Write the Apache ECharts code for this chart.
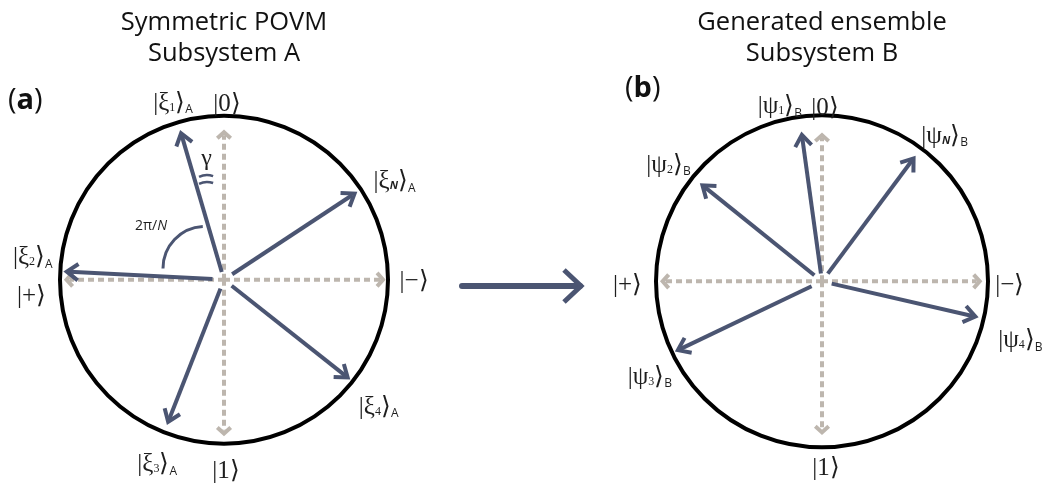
<!DOCTYPE html>
<html><head><meta charset="utf-8">
<script src="https://cdn.jsdelivr.net/npm/echarts@6/dist/echarts.min.js"></script>
<style>html,body{margin:0;padding:0;background:#fff}#c{width:1043px;height:488px}</style>
</head><body><div id="c"></div>
<script>
// ---------------- data ----------------
const panelTitleA = ['Symmetric POVM', 'Subsystem A'];
const panelTitleB = ['Generated ensemble', 'Subsystem B'];
const panelTags = ['a', 'b'];

// state vectors: index, direction (deg, counter-clockwise from the |−⟩ axis), start / end radius (circle radius = 1)
const stateIndexA = ['1', '2', '3', '4', 'N'];
const stateAngleA = [106, 177, 249, 321, 34];
const stateStartA = [0.05, 0.07, 0.06, 0.06, 0.06];
const stateEndA = [0.95, 0.96, 0.95, 0.97, 0.96];

const stateIndexB = ['1', '2', '3', '4', 'N'];
const stateAngleB = [97.5, 140, 206.5, 346.5, 54.5];
const stateStartB = [0.05, 0.06, 0.07, 0.06, 0.06];
const stateEndB = [0.93, 0.94, 0.97, 0.95, 0.95];

// basis axes
const basisKets = ['0', '\u2212', '1', '+'];
const basisAngle = [90, 0, 270, 180];
const basisEndA = [0.92, 0.97, 0.96, 0.96];
const basisEndB = [0.92, 0.95, 0.95, 0.96];

// angle markers (panel a)
const gammaMarkAngles = [70, 116];
const sectorAngles = [93, 180];

// ---------------- layout / style ----------------
const ARROW = '#4b5572', BASIS = '#bdb6ae', INK = '#1e1e1e';
const SERIF = 'Liberation Serif';
const SANS = 'Open Sans';
const stateShiftA = [[-8, -30], [-34, -14], [-11, 43], [31, 30], [40, -12]];
const stateShiftB = [[-22, -28], [-34, -20], [-28, 27], [45, 24], [31, -22]];
const basisShiftA = [[3, -28], [31, 2], [2, 38], [-35, 17]];
const basisShiftB = [[3, -27], [30, 4], [4, 36], [-35, 4]];
const gammaCentres = [[-0.104, 0.54], [-0.104, 0.497]];
const gammaR = 0.11;

const ketRich = {
  k: { fontFamily: SERIF, fontSize: 25, fill: INK, verticalAlign: 'middle' },
  n: { fontFamily: SERIF, fontSize: 12, fill: INK, verticalAlign: 'bottom', padding: [0, 0, 2, 0] },
  ni: { fontFamily: SANS, fontSize: 11, fontStyle: 'italic', fontWeight: 'bold', fill: INK, verticalAlign: 'bottom', padding: [0, 0, 3, 0] },
  s: { fontFamily: SANS, fontSize: 12, fill: INK, verticalAlign: 'bottom', padding: [0, 0, 0, 0] }
};

function chevron(p0, p1, len, halfDeg) {
  const dx = p1[0] - p0[0], dy = p1[1] - p0[1];
  const d = Math.hypot(dx, dy), ux = dx / d, uy = dy / d;
  const h = halfDeg * Math.PI / 180, c = Math.cos(h), s = Math.sin(h);
  const a = [p1[0] - len * (ux * c - uy * s), p1[1] - len * (uy * c + ux * s)];
  const b = [p1[0] - len * (ux * c + uy * s), p1[1] - len * (uy * c - ux * s)];
  return { pts: [a, p1, b], u: [ux, uy] };
}

function polar(api, r, deg) {
  const t = deg * Math.PI / 180;
  return api.coord([r * Math.cos(t), r * Math.sin(t)]);
}

function stateSeries(g, idx, ang, st, en, shifts, greek, sub) {
  return {
    type: 'custom', xAxisIndex: g, yAxisIndex: g, clip: false, silent: true, z: 5,
    data: ang.map((a, i) => [a, st[i], en[i]]),
    renderItem(params, api) {
      const i = params.dataIndex;
      const a = api.value(0);
      const p0 = polar(api, api.value(1), a), p1 = polar(api, api.value(2), a);
      const ch = chevron(p0, p1, 14, 36);
      const pe = [p1[0] - ch.u[0] * 3, p1[1] - ch.u[1] * 3];
      const nTag = idx[i] === 'N' ? '{ni|N}' : '{n|' + idx[i] + '}';
      return {
        type: 'group', children: [
          { type: 'line', shape: { x1: p0[0], y1: p0[1], x2: pe[0], y2: pe[1] },
            style: { stroke: ARROW, lineWidth: 4, lineCap: 'butt' } },
          { type: 'polyline', shape: { points: ch.pts },
            style: { stroke: ARROW, lineWidth: 4, fill: null, lineJoin: 'miter', lineCap: 'butt' } },
          { type: 'text', x: p1[0] + shifts[i][0], y: p1[1] + shifts[i][1],
            style: { text: '{k|\u007C' + greek + '}' + nTag + '{k|\u27E9}{s|' + sub + '}', rich: ketRich,
              align: 'center', verticalAlign: 'middle' } }
        ]
      };
    }
  };
}

function basisSeries(g, ends, shifts) {
  return {
    type: 'custom', xAxisIndex: g, yAxisIndex: g, clip: false, silent: true, z: 3,
    data: basisAngle.map((a, i) => [a, 0, ends[i]]),
    renderItem(params, api) {
      const i = params.dataIndex;
      const a = api.value(0);
      const p0 = polar(api, 0, a), p1 = polar(api, api.value(2), a);
      const ch = chevron(p0, p1, 9, 48);
      const pe = [p1[0] - ch.u[0] * 3, p1[1] - ch.u[1] * 3];
      return {
        type: 'group', children: [
          { type: 'line', shape: { x1: p0[0], y1: p0[1], x2: pe[0], y2: pe[1] },
            style: { stroke: BASIS, lineWidth: 4, lineDash: [6, 4] } },
          { type: 'polyline', shape: { points: ch.pts },
            style: { stroke: BASIS, lineWidth: 4, fill: null, lineJoin: 'miter' } },
          { type: 'text', x: p1[0] + shifts[i][0], y: p1[1] + shifts[i][1],
            style: { text: '{k|\u007C' + basisKets[i] + '\u27E9}', rich: ketRich, align: 'center', verticalAlign: 'middle' } }
        ]
      };
    }
  };
}

function circleSeries(g) {
  return {
    type: 'custom', xAxisIndex: g, yAxisIndex: g, clip: false, silent: true, z: 2,
    data: [[0, 0, 1]],
    renderItem(params, api) {
      const c = api.coord([api.value(0), api.value(1)]);
      const r = api.size([api.value(2), 0])[0];
      return { type: 'circle', shape: { cx: c[0], cy: c[1], r: r },
        style: { stroke: '#000', lineWidth: 4, fill: null } };
    }
  };
}

// angle markers for panel a
const markerSeries = {
  type: 'custom', xAxisIndex: 0, yAxisIndex: 0, clip: false, silent: true, z: 4,
  data: [[0, 0]],
  renderItem(params, api) {
    const R = api.size([1, 0])[0];
    const toRad = d => -d * Math.PI / 180;
    const kids = gammaCentres.map(c => {
      const p = api.coord(c);
      return {
        type: 'arc', shape: { cx: p[0], cy: p[1], r: gammaR * R, startAngle: toRad(gammaMarkAngles[1]), endAngle: toRad(gammaMarkAngles[0]), clockwise: true },
        style: { stroke: ARROW, lineWidth: 2.5, fill: null }
      };
    });
    const sc = api.coord([-0.116, 0.07]);
    kids.push({ type: 'arc', shape: { cx: sc[0], cy: sc[1], r: 0.256 * R, startAngle: toRad(sectorAngles[1]), endAngle: toRad(sectorAngles[0]), clockwise: true },
      style: { stroke: ARROW, lineWidth: 3, fill: null } });
    const gp = polar(api, 0.76, 98);
    kids.push({ type: 'text', x: gp[0], y: gp[1], style: { text: '\u03B3', fontFamily: SERIF, fontSize: 24, fill: INK, align: 'center', verticalAlign: 'middle' } });
    const tp = api.coord([-0.445, 0.332]);
    kids.push({ type: 'text', x: tp[0], y: tp[1], style: { text: '{a|2\u03C0/}{b|N}', rich: {
      a: { fontFamily: SANS, fontSize: 14, fill: INK }, b: { fontFamily: SANS, fontSize: 14, fontStyle: 'italic', fill: INK } },
      align: 'center', verticalAlign: 'middle' } });
    return { type: 'group', children: kids };
  }
};

const AX = 1.3;
function axes(n) {
  const a = [];
  for (let i = 0; i < n; i++) a.push({ gridIndex: i, type: 'value', min: -AX, max: AX, show: false });
  return a;
}

function titleText(x, lines, y0) {
  return lines.map((t, i) => ({ type: 'text', x: x, y: y0 + i * 31,
    style: { text: t, fontFamily: SANS, fontSize: 25.5, fill: '#111', align: 'center', verticalAlign: 'middle' } }));
}
function tagText(x, y, t) {
  return { type: 'text', x: x, y: y, style: { text: '{p|(}{b|' + t + '}{p|)}', rich: {
    p: { fontFamily: SANS, fontSize: 29, fill: '#111' }, b: { fontFamily: SANS, fontSize: 29, fontWeight: 'bold', fill: '#111' } },
    align: 'left', verticalAlign: 'middle' } };
}

const chart = echarts.init(document.getElementById('c'), null, { renderer: 'canvas' });
chart.setOption({
  animation: false,
  backgroundColor: '#fff',
  grid: [
    { left: 224 - AX * 164, top: 284.5 - AX * 164, width: 2 * AX * 164, height: 2 * AX * 164 },
    { left: 822 - AX * 166, top: 290.5 - AX * 166, width: 2 * AX * 166, height: 2 * AX * 166 }
  ],
  xAxis: axes(2),
  yAxis: axes(2),
  series: [
    circleSeries(0), circleSeries(1),
    basisSeries(0, basisEndA, basisShiftA), basisSeries(1, basisEndB, basisShiftB),
    stateSeries(0, stateIndexA, stateAngleA, stateStartA, stateEndA, stateShiftA, '\u03BE', 'A'),
    stateSeries(1, stateIndexB, stateAngleB, stateStartB, stateEndB, stateShiftB, '\u03C8', 'B'),
    markerSeries
  ],
  graphic: [
    ...titleText(224, panelTitleA, 23),
    ...titleText(822, panelTitleB, 23),
    tagText(8, 101, panelTags[0]),
    tagText(625, 89, panelTags[1]),
    { type: 'group', children: [
      { type: 'line', shape: { x1: 462, y1: 286, x2: 580, y2: 286 }, style: { stroke: ARROW, lineWidth: 6, lineCap: 'round' } },
      { type: 'polyline', shape: { points: [[564, 270], [581, 286], [564, 302]] }, style: { stroke: ARROW, lineWidth: 5, fill: null, lineJoin: 'miter' } }
    ] }
  ]
});
</script></body></html>
